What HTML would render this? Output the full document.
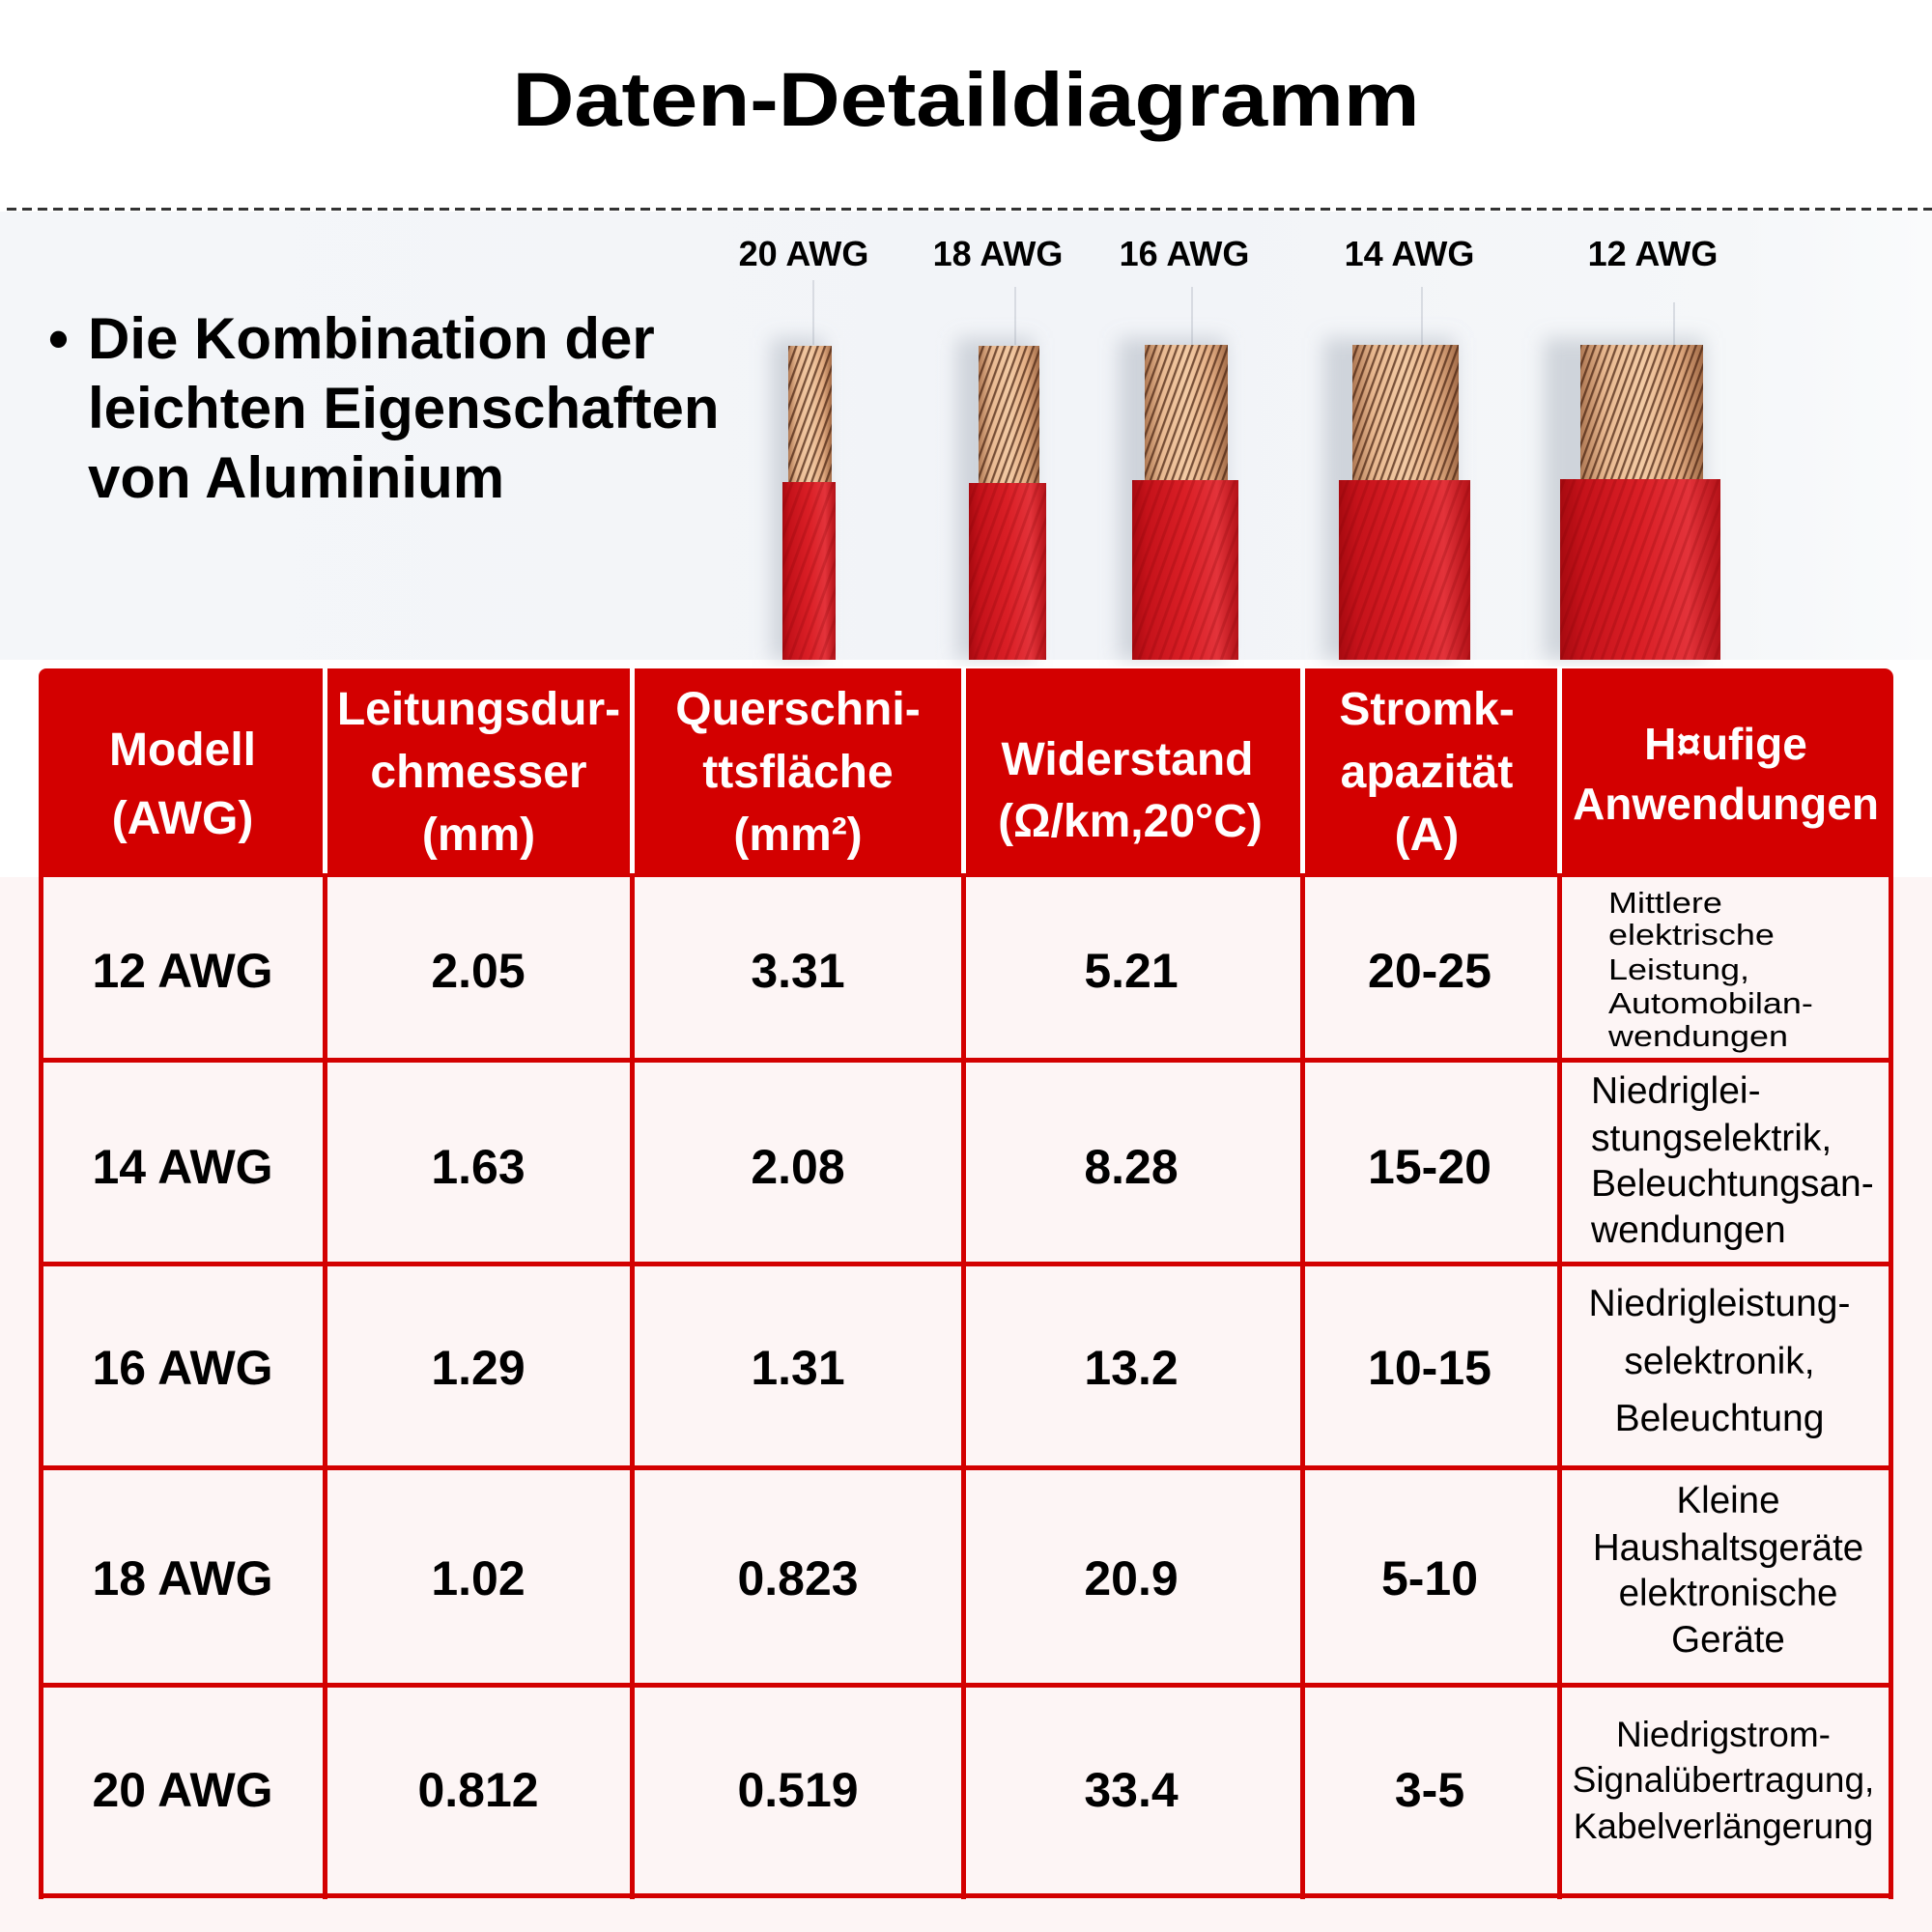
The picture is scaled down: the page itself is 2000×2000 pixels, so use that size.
<!DOCTYPE html>
<html><head><meta charset="utf-8">
<style>
*{margin:0;padding:0;box-sizing:border-box}
body{width:2000px;height:2000px;position:relative;background:#fff;overflow:hidden;font-family:"Liberation Sans",Arial,sans-serif}
.a{position:absolute;white-space:nowrap}
.h{position:absolute;background:#d30000}
.ht{position:absolute;color:#fff;font-weight:bold;font-size:48px;line-height:48px;text-align:center;white-space:nowrap}
.bt{position:absolute;color:#000;font-weight:bold;font-size:50px;line-height:50px;text-align:center;white-space:nowrap;width:300px}
.vl{position:absolute;background:#d30000;width:5px}
.hl{position:absolute;background:#d30000;height:5px;left:40px;width:1920px}
.lbl{position:absolute;font-weight:bold;font-size:36px;line-height:36px;width:200px;text-align:center;color:#000}
.r{position:absolute;font-size:39px;line-height:39px;color:#000;white-space:nowrap}
.c{text-align:center;width:400px}
</style></head><body>

<!-- title -->
<div class="a" style="left:0;width:2000px;top:63px;font-size:79px;line-height:79px;font-weight:bold;text-align:center;transform:scaleX(1.12);color:#000">Daten-Detaildiagramm</div>

<!-- dashed line -->
<div class="a" style="left:7px;top:215px;width:1993px;height:3px;background:repeating-linear-gradient(90deg,#333 0 10px,transparent 10px 16px)"></div>

<!-- gray image region -->
<div class="a" style="left:0;top:219px;width:2000px;height:464px;background:linear-gradient(90deg,#f4f6f9 0%,#f2f4f8 60%,#f5f7f9 90%,#fafbfc 100%)"></div>

<!-- bullet text -->
<div class="a" style="left:50px;top:315px;font-size:60px;line-height:72px;font-weight:bold;color:#000">•</div>
<div class="a" style="left:91px;top:315px;font-size:60px;line-height:72px;font-weight:bold;color:#000">Die Kombination der<br>leichten Eigenschaften<br>von Aluminium</div>

<!-- AWG labels -->
<div class="lbl" style="left:732px;top:245px">20 AWG</div>
<div class="lbl" style="left:933px;top:245px">18 AWG</div>
<div class="lbl" style="left:1126px;top:245px">16 AWG</div>
<div class="lbl" style="left:1359px;top:245px">14 AWG</div>
<div class="lbl" style="left:1611px;top:245px">12 AWG</div>

<!-- wires -->
<svg class="a" style="left:0;top:0" width="2000" height="690" viewBox="0 0 2000 690">
<defs>
<linearGradient id="rg" x1="0" x2="1" y1="0" y2="0">
<stop offset="0" stop-color="#a70a10"/><stop offset=".14" stop-color="#c5121a"/><stop offset=".5" stop-color="#da1f26"/><stop offset=".8" stop-color="#e3333a"/><stop offset="1" stop-color="#b41218"/>
</linearGradient>
<linearGradient id="cg" x1="0" x2="1" y1="0" y2="0">
<stop offset="0" stop-color="#b07a55"/><stop offset=".2" stop-color="#e8b890"/><stop offset=".5" stop-color="#f3cba5"/><stop offset=".8" stop-color="#e2ac82"/><stop offset="1" stop-color="#a36c48"/>
</linearGradient>
<pattern id="cs" width="7" height="7" patternUnits="userSpaceOnUse" patternTransform="rotate(20)"><rect x="0" y="0" width="2.3" height="7" fill="#4a2412" fill-opacity=".72"/></pattern>
<pattern id="rs" width="10" height="10" patternUnits="userSpaceOnUse" patternTransform="rotate(20)"><rect x="0" y="0" width="3" height="10" fill="#7a0006" fill-opacity=".22"/></pattern>
<filter id="bl" x="-80%" y="-20%" width="260%" height="140%"><feGaussianBlur stdDeviation="10"/></filter>
</defs>
<g stroke="#cfd3da" stroke-width="1.5">
<line x1="842" y1="290" x2="842" y2="357"/>
<line x1="1051" y1="297" x2="1051" y2="357"/>
<line x1="1234" y1="297" x2="1234" y2="357"/>
<line x1="1472" y1="297" x2="1472" y2="357"/>
<line x1="1733" y1="313" x2="1733" y2="357"/>
</g>
<g fill="#8d96a4" fill-opacity=".35" filter="url(#bl)">
<rect x="798" y="350" width="55" height="333"/>
<rect x="990" y="350" width="80" height="333"/>
<rect x="1158" y="350" width="110" height="333"/>
<rect x="1370" y="350" width="136" height="333"/>
<rect x="1598" y="350" width="166" height="333"/>
</g>
<rect x="816" y="358" width="45" height="144" fill="url(#cg)"/><rect x="816" y="358" width="45" height="144" fill="url(#cs)"/>
<rect x="810" y="499" width="55" height="184" fill="url(#rg)"/><rect x="810" y="499" width="55" height="184" fill="url(#rs)"/>
<rect x="1013" y="358" width="63" height="144" fill="url(#cg)"/><rect x="1013" y="358" width="63" height="144" fill="url(#cs)"/>
<rect x="1003" y="500" width="80" height="183" fill="url(#rg)"/><rect x="1003" y="500" width="80" height="183" fill="url(#rs)"/>
<rect x="1185" y="357" width="86" height="143" fill="url(#cg)"/><rect x="1185" y="357" width="86" height="143" fill="url(#cs)"/>
<rect x="1172" y="497" width="110" height="186" fill="url(#rg)"/><rect x="1172" y="497" width="110" height="186" fill="url(#rs)"/>
<rect x="1400" y="357" width="110" height="143" fill="url(#cg)"/><rect x="1400" y="357" width="110" height="143" fill="url(#cs)"/>
<rect x="1386" y="497" width="136" height="186" fill="url(#rg)"/><rect x="1386" y="497" width="136" height="186" fill="url(#rs)"/>
<rect x="1636" y="357" width="127" height="142" fill="url(#cg)"/><rect x="1636" y="357" width="127" height="142" fill="url(#cs)"/>
<rect x="1615" y="496" width="166" height="187" fill="url(#rg)"/><rect x="1615" y="496" width="166" height="187" fill="url(#rs)"/>
</svg>

<!-- pink body background -->
<div class="a" style="left:0;top:908px;width:2000px;height:1092px;background:#fdf5f5"></div>

<!-- header blocks -->
<div class="h" style="left:40px;top:692px;width:294px;height:216px;border-top-left-radius:8px"></div>
<div class="h" style="left:339px;top:692px;width:313px;height:216px"></div>
<div class="h" style="left:657px;top:692px;width:338px;height:216px"></div>
<div class="h" style="left:1000px;top:692px;width:346px;height:216px"></div>
<div class="h" style="left:1351px;top:692px;width:261px;height:216px"></div>
<div class="h" style="left:1617px;top:692px;width:343px;height:216px;border-top-right-radius:9px"></div>

<!-- header text -->
<div class="ht" style="left:40px;width:298px;top:753px">Modell</div>
<div class="ht" style="left:40px;width:298px;top:824px">(AWG)</div>

<div class="ht" style="left:339px;width:313px;top:711px">Leitungsdur-</div>
<div class="ht" style="left:339px;width:313px;top:776px">chmesser</div>
<div class="ht" style="left:339px;width:313px;top:841px">(mm)</div>

<div class="ht" style="left:657px;width:338px;top:711px">Querschni-</div>
<div class="ht" style="left:657px;width:338px;top:776px">ttsfläche</div>
<div class="ht" style="left:657px;width:338px;top:841px">(mm²)</div>

<div class="ht" style="left:1000px;width:334px;top:763px">Widerstand</div>
<div class="ht" style="left:1000px;width:340px;top:827px">(Ω/km,20°C)</div>

<div class="ht" style="left:1351px;width:252px;top:711px">Stromk-</div>
<div class="ht" style="left:1351px;width:252px;top:776px">apazität</div>
<div class="ht" style="left:1351px;width:252px;top:841px">(A)</div>

<div class="ht" style="left:1617px;width:339px;top:746px;font-size:46px">H¤ufige</div>
<div class="ht" style="left:1617px;width:339px;top:808px;font-size:46px">Anwendungen</div>

<!-- grid lines -->
<div class="vl" style="left:40px;top:904px;height:1062px"></div>
<div class="vl" style="left:334px;top:904px;height:1062px"></div>
<div class="vl" style="left:652px;top:904px;height:1062px"></div>
<div class="vl" style="left:995px;top:904px;height:1062px"></div>
<div class="vl" style="left:1346px;top:904px;height:1062px"></div>
<div class="vl" style="left:1612px;top:904px;height:1062px"></div>
<div class="vl" style="left:1955px;top:904px;height:1062px"></div>
<div class="hl" style="top:1095px"></div>
<div class="hl" style="top:1306px"></div>
<div class="hl" style="top:1517px"></div>
<div class="hl" style="top:1742px"></div>
<div class="hl" style="top:1960px"></div>

<!-- body bold text rows -->
<div class="bt" style="left:39px;top:980px">12 AWG</div>
<div class="bt" style="left:345px;top:980px">2.05</div>
<div class="bt" style="left:676px;top:980px">3.31</div>
<div class="bt" style="left:1021px;top:980px">5.21</div>
<div class="bt" style="left:1330px;top:980px">20-25</div>

<div class="bt" style="left:39px;top:1183px">14 AWG</div>
<div class="bt" style="left:345px;top:1183px">1.63</div>
<div class="bt" style="left:676px;top:1183px">2.08</div>
<div class="bt" style="left:1021px;top:1183px">8.28</div>
<div class="bt" style="left:1330px;top:1183px">15-20</div>

<div class="bt" style="left:39px;top:1391px">16 AWG</div>
<div class="bt" style="left:345px;top:1391px">1.29</div>
<div class="bt" style="left:676px;top:1391px">1.31</div>
<div class="bt" style="left:1021px;top:1391px">13.2</div>
<div class="bt" style="left:1330px;top:1391px">10-15</div>

<div class="bt" style="left:39px;top:1609px">18 AWG</div>
<div class="bt" style="left:345px;top:1609px">1.02</div>
<div class="bt" style="left:676px;top:1609px">0.823</div>
<div class="bt" style="left:1021px;top:1609px">20.9</div>
<div class="bt" style="left:1330px;top:1609px">5-10</div>

<div class="bt" style="left:39px;top:1828px">20 AWG</div>
<div class="bt" style="left:345px;top:1828px">0.812</div>
<div class="bt" style="left:676px;top:1828px">0.519</div>
<div class="bt" style="left:1021px;top:1828px">33.4</div>
<div class="bt" style="left:1330px;top:1828px">3-5</div>

<!-- last column row1 -->
<div class="r" style="left:1665px;top:919px;font-size:31px;line-height:31px;transform:scaleX(1.16);transform-origin:0 0">Mittlere</div>
<div class="r" style="left:1665px;top:952px;font-size:31px;line-height:31px;transform:scaleX(1.16);transform-origin:0 0">elektrische</div>
<div class="r" style="left:1665px;top:988px;font-size:31px;line-height:31px;transform:scaleX(1.16);transform-origin:0 0">Leistung,</div>
<div class="r" style="left:1665px;top:1023px;font-size:31px;line-height:31px;transform:scaleX(1.16);transform-origin:0 0">Automobilan-</div>
<div class="r" style="left:1665px;top:1057px;font-size:31px;line-height:31px;transform:scaleX(1.16);transform-origin:0 0">wendungen</div>

<!-- row2 -->
<div class="r" style="left:1647px;top:1110px">Niedriglei-</div>
<div class="r" style="left:1647px;top:1159px">stungselektrik,</div>
<div class="r" style="left:1647px;top:1206px">Beleuchtungsan-</div>
<div class="r" style="left:1647px;top:1254px">wendungen</div>

<!-- row3 -->
<div class="r c" style="left:1580px;top:1330px">Niedrigleistung-</div>
<div class="r c" style="left:1580px;top:1390px">selektronik,</div>
<div class="r c" style="left:1580px;top:1449px">Beleuchtung</div>

<!-- row4 -->
<div class="r c" style="left:1589px;top:1535px;font-size:38.5px;line-height:38.5px">Kleine</div>
<div class="r c" style="left:1589px;top:1584px;font-size:38.5px;line-height:38.5px">Haushaltsgeräte</div>
<div class="r c" style="left:1589px;top:1631px;font-size:38.5px;line-height:38.5px">elektronische</div>
<div class="r c" style="left:1589px;top:1679px;font-size:38.5px;line-height:38.5px">Geräte</div>

<!-- row5 -->
<div class="r c" style="left:1584px;top:1777px;font-size:37px;line-height:37px">Niedrigstrom-</div>
<div class="r c" style="left:1584px;top:1824px;font-size:37px;line-height:37px">Signalübertragung,</div>
<div class="r c" style="left:1584px;top:1872px;font-size:37px;line-height:37px">Kabelverlängerung</div>

</body></html>
